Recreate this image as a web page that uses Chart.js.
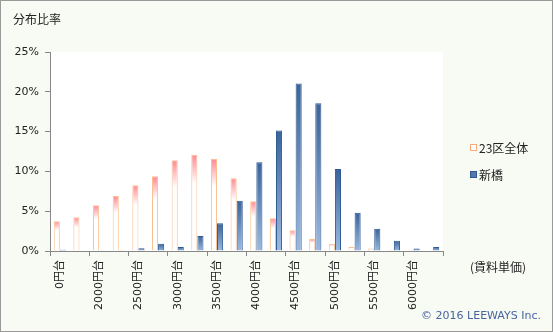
<!DOCTYPE html>
<html>
<head>
<meta charset="utf-8">
<script src="https://cdn.jsdelivr.net/npm/chart.js@4"></script>
<style>
    body { margin: 0; background: #ffffff; }
    #wrap { width: 551px; height: 330px; border: 1px solid #999999; background: #f8faf4; }
</style>
</head>
<body>
<div id="wrap"><canvas id="myGrafico" width="551" height="330"></canvas></div>
<script>
// categorias (cada 250円, so metade tem rotulo)
const categorias = ['0円台', '1750円台', '2000円台', '2250円台', '2500円台', '2750円台', '3000円台', '3250円台',
    '3500円台', '3750円台', '4000円台', '4250円台', '4500円台', '4750円台', '5000円台', '5250円台',
    '5500円台', '5750円台', '6000円台', '6250円台'];
const valores23ku = [3.75, 4.25, 5.75, 6.9, 8.25, 9.4, 11.4, 12.1, 11.6, 9.15,
    6.25, 4.1, 2.6, 1.5, 0.9, 0.5, 0.3, 0.15, 0.15, 0.1];
const valoresShinbashi = [0.15, 0, 0.1, 0.1, 0.35, 0.9, 0.5, 1.9, 3.5, 6.3,
    11.15, 15.15, 21.05, 18.55, 10.3, 4.8, 2.8, 1.3, 0.3, 0.5];
const ticksY = [0, 5, 10, 15, 20, 25];

const fonteNum = '"DejaVu Sans", "Noto Sans CJK JP", sans-serif';
const fonteJp = '"Noto Sans CJK JP", sans-serif';

function gradiente(c, cores) {
    const chart = c.chart;
    if (!chart.chartArea) return cores[0][1];
    const y = chart.scales.y;
    const topo = y.getPixelForValue(c.raw);
    const base = y.getPixelForValue(0);
    const g = chart.ctx.createLinearGradient(0, topo, 0, base);
    cores.forEach(function(p) { g.addColorStop(p[0], p[1]); });
    return g;
}

// fundo branco da area do grafico + textos
const extras = {
    id: 'extras',
    beforeDraw(chart) {
        const { ctx, chartArea } = chart;
        ctx.save();
        ctx.fillStyle = '#ffffff';
        ctx.fillRect(chartArea.left, chartArea.top, chartArea.right - chartArea.left, chartArea.bottom - chartArea.top);
        ctx.restore();
    },
    afterDraw(chart) {
        const ctx = chart.ctx;
        ctx.save();
        ctx.fillStyle = '#222222';
        ctx.textBaseline = 'middle';
        ctx.font = '12px ' + fonteJp;
        ctx.fillText('分布比率', 12, 18);
        ctx.fillText('(賃料単価)', 469, 266);

        // legenda
        const itens = [
            { y: 147, fill: '#ffffff', stroke: '#f5a878' },
            { y: 174, fill: '#5577aa', stroke: '#2f5a92' }
        ];
        chart.data.datasets.forEach(function(ds, i) {
            const it = itens[i];
            ctx.fillStyle = it.fill;
            ctx.fillRect(469.5, it.y - 3.5, 6, 6);
            ctx.strokeStyle = it.stroke;
            ctx.lineWidth = 1;
            ctx.strokeRect(469.5, it.y - 3.5, 6, 6);
            ctx.fillStyle = '#222222';
            ctx.fillText(ds.label, 478, it.y);
        });

        ctx.fillStyle = '#4765a0';
        ctx.font = '11px ' + fonteNum;
        ctx.textAlign = 'right';
        ctx.fillText('© 2016 LEEWAYS Inc.', 540, 315);
        ctx.restore();
    }
};

const ctx = document.getElementById('myGrafico');

new Chart(ctx, {
    type: 'bar',
    data: {
        labels: categorias,
        datasets: [{
            label: '23区全体',
            data: valores23ku,
            backgroundColor: function(c) {
                return gradiente(c, [[0, '#ff8792'], [0.3, '#ffffff'], [1, '#ffffff']]);
            },
            borderColor: '#fac08e',
            borderWidth: 1,
            categoryPercentage: 0.62,
            barPercentage: 1.0
        }, {
            label: '新橋',
            data: valoresShinbashi,
            backgroundColor: function(c) {
                return gradiente(c, [[0, '#3a6399'], [1, '#9bbae2']]);
            },
            borderColor: '#2f5a92',
            borderWidth: 1,
            categoryPercentage: 0.62,
            barPercentage: 1.0
        }]
    },
    options: {
        responsive: false,
        animation: false,
        layout: { padding: { left: 0, right: 109, top: 51, bottom: 0 } },
        plugins: {
            legend: { display: false },
            tooltip: { enabled: false }
        },
        scales: {
            x: {
                afterFit: function(s) { s.height = 80; },
                border: { color: '#888888', width: 1 },
                grid: {
                    drawOnChartArea: false,
                    tickLength: 5,
                    tickColor: function(c) {
                        return (c.index === undefined || c.index % 2 === 0) ? '#888888' : 'rgba(0,0,0,0)';
                    }
                },
                ticks: {
                    autoSkip: false,
                    minRotation: 90,
                    maxRotation: 90,
                    padding: 4,
                    color: '#222222',
                    font: { family: fonteNum, size: 11 },
                    callback: function(v, i) { return i % 2 === 0 ? categorias[i] : ''; }
                }
            },
            y: {
                min: 0,
                max: 25,
                afterFit: function(s) { s.width = 49; },
                afterBuildTicks: function(s) { s.ticks = ticksY.map(function(v) { return { value: v }; }); },
                border: { color: '#888888', width: 1 },
                grid: { drawOnChartArea: false, tickLength: 5, tickColor: '#888888' },
                ticks: {
                    padding: 6,
                    color: '#222222',
                    font: { family: fonteNum, size: 11 },
                    callback: function(v) { return v + '%'; }
                }
            }
        }
    },
    plugins: [extras]
});
</script>
</body>
</html>
